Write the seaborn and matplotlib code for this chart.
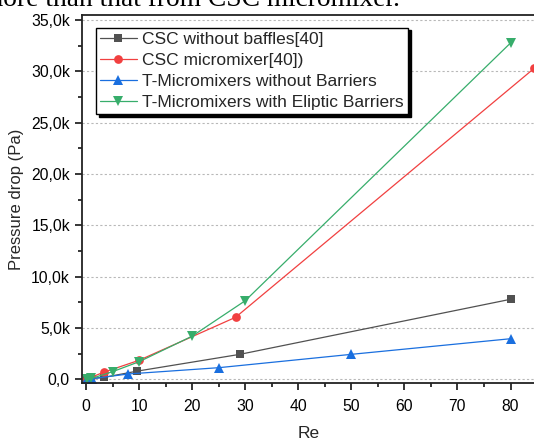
import matplotlib
matplotlib.use("Agg")
import matplotlib.pyplot as plt
from matplotlib.ticker import MultipleLocator, FuncFormatter
import seaborn as sns
import pandas as pd

# Reynolds numbers and pressure drop (Pa) for each configuration
re_csc_baffles = [0.1, 1, 3.4, 9.7, 29, 80]
dp_csc_baffles = [20, 80, 190, 800, 2430, 7790]

re_csc_mixer = [0.1, 1, 3.3, 10, 28.2, 84.5]
dp_csc_mixer = [30, 200, 680, 1850, 6040, 30300]

re_t_plain = [0.1, 1.2, 8, 25, 50, 80]
dp_t_plain = [10, 60, 520, 1130, 2430, 3950]

re_t_elliptic = [0.1, 1, 5, 10, 20, 30, 80]
dp_t_elliptic = [10, 80, 740, 1710, 4200, 7650, 32750]

series_names = [
    "CSC without baffles[40]",
    "CSC micromixer[40])",
    "T-Micromixers without Barriers",
    "T-Micromixers with Eliptic Barriers",
]
series_colors = ["#515151", "#F14040", "#1A6FDF", "#37AD6B"]
series_markers = ["s", "o", "^", "v"]
marker_sizes = [6, 6.3, 7.5, 7.5]

frames = []
for name, xs, ys in zip(
    series_names,
    [re_csc_baffles, re_csc_mixer, re_t_plain, re_t_elliptic],
    [dp_csc_baffles, dp_csc_mixer, dp_t_plain, dp_t_elliptic],
):
    frames.append(pd.DataFrame({"Re": xs, "dp": ys, "series": name}))
data = pd.concat(frames, ignore_index=True)

sns.set_style("ticks")
plt.rcParams["font.family"] = ["Liberation Sans", "DejaVu Sans"]

fig = plt.figure(figsize=(5.34, 4.40), dpi=100)
ax = fig.add_axes([81.75 / 534, 56.7 / 440, (535.5 - 81.75) / 534, 368.6 / 440])

for name, color, marker, ms in zip(series_names, series_colors, series_markers, marker_sizes):
    sub = data[data["series"] == name]
    sns.lineplot(
        data=sub, x="Re", y="dp", ax=ax, color=color, marker=marker,
        markersize=ms, markeredgewidth=0, linewidth=0.9, sort=False,
        label=name, estimator=None,
    )

ax.set_xlim(-0.8, 84.7)
ax.set_ylim(-390, 35500)

ax.xaxis.set_major_locator(MultipleLocator(10))
ax.xaxis.set_minor_locator(MultipleLocator(5))
ax.yaxis.set_major_locator(MultipleLocator(5000))
ax.yaxis.set_minor_locator(MultipleLocator(2500))


def k_format(v, pos):
    if abs(v) < 1e-9:
        return "0,0"
    return f"{v / 1000:.1f}k".replace(".", ",")


ax.yaxis.set_major_formatter(FuncFormatter(k_format))

ax.grid(axis="y", which="major", color="#b8b8b8", linestyle=(0, (2, 2)), linewidth=0.8)
ax.set_axisbelow(True)

ax.tick_params(axis="both", which="major", direction="out", length=5, width=1.1,
               labelsize=11.3, color="black", labelcolor="black")
ax.tick_params(axis="x", which="major", pad=6)
ax.tick_params(axis="both", which="minor", direction="out", length=3, width=1.1, color="black")
for side in ["left", "bottom", "top", "right"]:
    ax.spines[side].set_linewidth(1.3)
    ax.spines[side].set_color("#222222")

ax.set_xlabel("Re", fontsize=12.5, labelpad=9)
ax.set_ylabel("Pressure drop (Pa)", fontsize=12, labelpad=5)

leg = ax.legend(
    loc="upper left", bbox_to_anchor=(0.031, 0.965), fontsize=12.5,
    frameon=True, fancybox=False, shadow={"color": "black", "alpha": 1},
    edgecolor="black", framealpha=1, handlelength=2.1, handletextpad=0.3,
    borderpad=0.25, labelspacing=0.33, borderaxespad=0,
)
leg.get_frame().set_linewidth(1.0)

# Sentence fragment running above the chart, cut at the top edge
fig.text(400 / 534, 1 - 6 / 440, "more than that from CSC micromixer.",
         ha="right", va="baseline", fontsize=19.8,
         family=["Liberation Serif", "DejaVu Serif"], color="black")

fig.savefig("out.png", dpi=100)
